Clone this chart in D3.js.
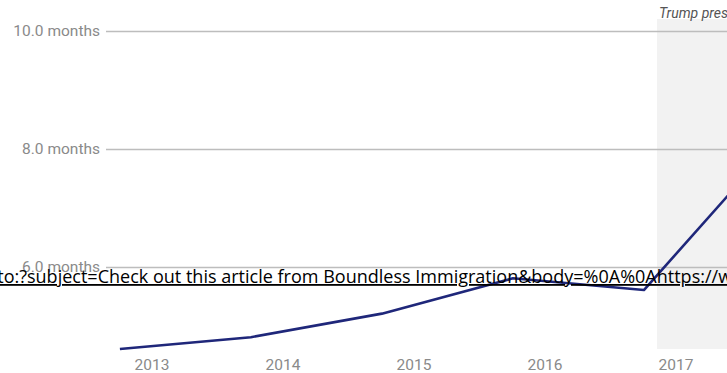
<!DOCTYPE html>
<html>
<head>
<meta charset="utf-8">
<script src="https://cdn.jsdelivr.net/npm/d3@7"></script>
<style>
  html, body { margin: 0; padding: 0; background: #fff; overflow: hidden; }
  svg { display: block; }
</style>
</head>
<body>
<svg id="chart" width="727" height="373"></svg>
<script>
// Average processing time (months), plotted by year
const years = [2012.9, 2013.9, 2014.9, 2015.9, 2016.9, 2017.9];
const months = [4.6, 4.8, 5.2, 5.8, 5.6, 8.1];
const yTicks = [6, 8, 10];
const xTickYears = [2013, 2014, 2015, 2016, 2017];
const presidencyStart = 2017.0;
const presidencyLabel = "Trump presidency";
const shareLink = "mailto:?subject=Check out this article from Boundless Immigration&body=%0A%0Ahttps://www.boundless.com/blog/";

const W = 727, H = 373;
const svg = d3.select("#chart");

const x = d3.scaleLinear().domain([2017, 2018]).range([657, 788]);
const y = d3.scaleLinear().domain([4.6, 10.2]).range([349, 19]);

// shaded period
svg.append("rect")
  .attr("x", x(presidencyStart))
  .attr("y", y(10.2))
  .attr("width", W - x(presidencyStart))
  .attr("height", y(4.6) - y(10.2))
  .attr("fill", "#f2f2f2");

svg.append("text")
  .attr("x", x(presidencyStart) + 2)
  .attr("y", 18)
  .attr("font-family", "Roboto, sans-serif")
  .attr("font-style", "italic")
  .attr("font-size", 14)
  .attr("fill", "#555")
  .text(presidencyLabel);

// y grid + labels
const yAxis = d3.axisLeft(y).tickValues(yTicks).tickSize(0)
  .tickFormat(d => d3.format(".1f")(d) + " months");
const gy = svg.append("g").attr("transform", "translate(100,0)").call(yAxis);
gy.select(".domain").remove();
gy.selectAll("text")
  .attr("x", 0)
  .attr("font-family", "Roboto, sans-serif")
  .attr("font-size", 15.5)
  .attr("fill", "#8a8a8a");
svg.append("g").selectAll("line").data(yTicks).join("line")
  .attr("x1", 106).attr("x2", W)
  .attr("y1", d => Math.round(y(d)) + 0.5).attr("y2", d => Math.round(y(d)) + 0.5)
  .attr("stroke", "#bdbdbd").attr("stroke-width", 1.3);

// x labels
const xAxis = d3.axisBottom(x).tickValues(xTickYears).tickSize(0).tickFormat(d3.format("d"));
const gx = svg.append("g").attr("transform", "translate(0,355)").call(xAxis);
gx.select(".domain").remove();
gx.selectAll("text")
  .attr("text-anchor", "start")
  .attr("dx", 1)
  .attr("y", 0)
  .attr("dy", "0.95em")
  .attr("font-family", "Roboto, sans-serif")
  .attr("font-size", 15.5)
  .attr("fill", "#8a8a8a");

// data line
const line = d3.line().x((d, i) => x(years[i])).y(d => y(d));
svg.append("path")
  .datum(months)
  .attr("d", line)
  .attr("fill", "none")
  .attr("stroke", "#1f277a")
  .attr("stroke-width", 2.6)
  .attr("stroke-linejoin", "round");

// share link text overlaid across the chart
const link = svg.append("text")
  .attr("y", 283)
  .attr("font-family", "'Open Sans', sans-serif")
  .attr("font-weight", 500)
  .attr("font-size", 17)
  .attr("fill", "#000")
  .attr("text-decoration", "underline")
  .text(shareLink);
const node = link.node();
const iA = shareLink.indexOf("subject");
const iB = shareLink.indexOf("https://") + "https://".length;
const pA = node.getSubStringLength(0, iA);
const pB = node.getSubStringLength(0, iB);
const k = (719 - 27) / (pB - pA);
link.attr("font-size", 17 * k);
const pA2 = node.getSubStringLength(0, iA);
link.attr("x", 27 - pA2);
</script>
</body>
</html>
